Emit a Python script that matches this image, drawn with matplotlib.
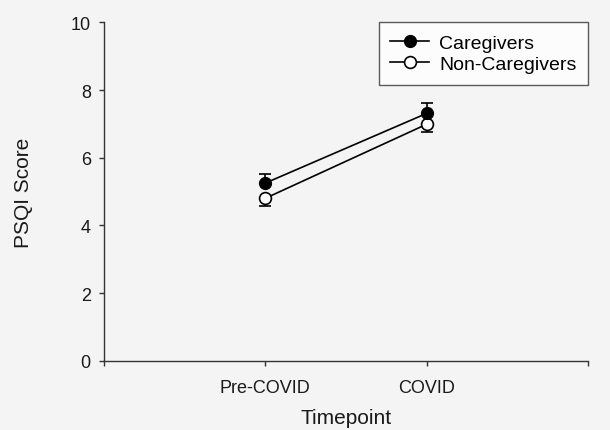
import matplotlib
matplotlib.use("Agg")
import matplotlib.pyplot as plt

# --- Data ---
timepoints = ["Pre-COVID", "COVID"]
x_pos = [1, 2]
caregivers = [5.25, 7.31]
caregivers_err = [0.28, 0.30]
non_caregivers = [4.80, 6.99]
non_caregivers_err = [0.24, 0.23]

plt.rcParams['font.family'] = ['Liberation Sans', 'DejaVu Sans']

bg = '#f4f4f4'
fig = plt.figure(figsize=(6.10, 4.31), dpi=100, facecolor=bg)
ax = fig.add_axes([0.1705, 0.1608, 0.7935, 0.785], facecolor=bg)

# one-sided error bars (caregivers up, non-caregivers down)
ax.errorbar(x_pos, caregivers, yerr=[[0] * len(caregivers), caregivers_err],
            fmt='none', ecolor='black', elinewidth=1.2, capsize=4, capthick=1.2, zorder=2)
ax.errorbar(x_pos, non_caregivers, yerr=[non_caregivers_err, [0] * len(non_caregivers)],
            fmt='none', ecolor='black', elinewidth=1.2, capsize=4, capthick=1.2, zorder=2)

ax.plot(x_pos, caregivers, color='black', linewidth=1.2, marker='o', markersize=8.5,
        markerfacecolor='black', markeredgecolor='black', label='Caregivers', zorder=4)
ax.plot(x_pos, non_caregivers, color='black', linewidth=1.2, marker='o', markersize=8.5,
        markerfacecolor='white', markeredgecolor='black', markeredgewidth=1.2,
        label='Non-Caregivers', zorder=3)

ax.set_xlim(0, 3)
ax.set_ylim(0, 10)
ax.set_xticks([0, 1, 2, 3])
ax.set_xticklabels(['', timepoints[0], timepoints[1], ''])
ax.set_yticks([0, 2, 4, 6, 8, 10])

ax.spines['top'].set_visible(False)
ax.spines['right'].set_visible(False)
for s in ['left', 'bottom']:
    ax.spines[s].set_linewidth(1.0)
    ax.spines[s].set_color('#333333')

ax.tick_params(axis='both', direction='out', length=3.5, width=1.0, colors='#333333',
               labelsize=13, labelcolor='#1a1a1a')
ax.tick_params(axis='x', pad=10)
ax.tick_params(axis='y', pad=6)

ax.set_xlabel('Timepoint', fontsize=15, color='#1a1a1a', labelpad=8)
ax.set_ylabel('PSQI Score', fontsize=15, color='#1a1a1a', labelpad=27)

leg = ax.legend(loc='upper right', bbox_to_anchor=(1.0, 1.0), fontsize=14,
                frameon=True, fancybox=False, edgecolor='#333333',
                handlelength=2.0, handletextpad=0.5, borderpad=0.6, labelspacing=0.2,
                borderaxespad=0)
leg.get_frame().set_facecolor('white')
leg.get_frame().set_linewidth(1.0)

plt.savefig('out.png', dpi=100, facecolor=bg)
plt.close(fig)
